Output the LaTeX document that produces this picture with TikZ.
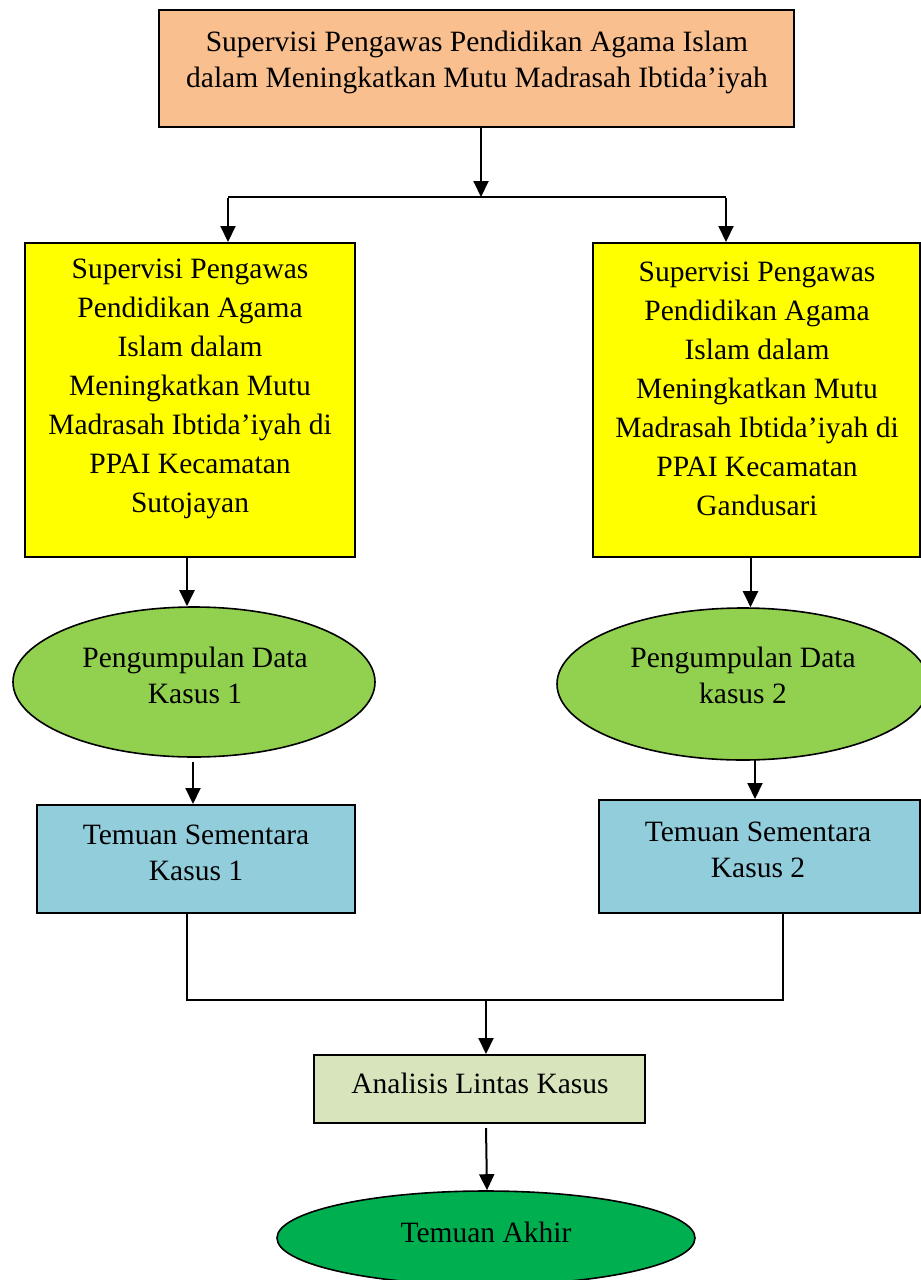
\documentclass[tikz,border=0pt]{standalone}
\usepackage{fontspec}
\setmainfont{Liberation Serif}
\usetikzlibrary{arrows.meta,shapes.geometric}
\definecolor{cOrange}{HTML}{F9BF8F}
\definecolor{cYellow}{HTML}{FFFF00}
\definecolor{cLeaf}{HTML}{92D050}
\definecolor{cBlue}{HTML}{92CDDC}
\definecolor{cOlive}{HTML}{D8E4BC}
\definecolor{cGreen}{HTML}{00B050}
\tikzset{
  box/.style={draw=black, line width=2pt, rectangle, inner sep=0pt},
  oval/.style={draw=black, line width=1.6pt, ellipse, inner sep=0pt},
  txt/.style={align=center, inner sep=0pt, font=\fontsize{29.5}{36}\selectfont},
  ytxt/.style={align=center, inner sep=0pt, font=\fontsize{29.5}{39}\selectfont},
  arr/.style={line width=2pt, -{Triangle[length=16pt,width=15pt]}},
  ln/.style={line width=2pt},
}
\begin{document}
\begin{tikzpicture}[x=1pt,y=-1pt]
\useasboundingbox (0,0) rectangle (921,1280);
% top
\node[box, fill=cOrange, minimum width=635pt, minimum height=117pt] (top) at (476.5,68.5) {};
\node[txt] (topT) at (477,62) {Supervisi Pengawas Pendidikan Agama Islam\\dalam Meningkatkan Mutu Madrasah Ibtida’iyah};
% yellow
\node[box, fill=cYellow, minimum width=330pt, minimum height=314pt] (ly) at (190,400) {};
\node[ytxt] (lyT) at (190,389) {Supervisi Pengawas\\Pendidikan Agama\\Islam dalam\\Meningkatkan Mutu\\Madrasah Ibtida’iyah di\\PPAI Kecamatan\\Sutojayan};
\node[box, fill=cYellow, minimum width=327pt, minimum height=314pt] (ry) at (756.5,400) {};
\node[ytxt] (ryT) at (757,389) {Supervisi Pengawas\\Pendidikan Agama\\Islam dalam\\Meningkatkan Mutu\\Madrasah Ibtida’iyah di\\PPAI Kecamatan\\Gandusari};
% ellipses
\node[oval, fill=cLeaf, minimum width=362pt, minimum height=150pt] (le) at (194,682) {};
\node[txt] (leT) at (195,675) {Pengumpulan Data\\Kasus 1};
\node[oval, fill=cLeaf, minimum width=372pt, minimum height=152pt] (re) at (743,684) {};
\node[txt] (reT) at (743,675) {Pengumpulan Data\\kasus 2};
% blue
\node[box, fill=cBlue, minimum width=318pt, minimum height=108pt] (lb) at (196,859) {};
\node[txt] (lbT) at (196,852.5) {Temuan Sementara\\Kasus 1};
\node[box, fill=cBlue, minimum width=321pt, minimum height=113pt] (rb) at (759.5,856.5) {};
\node[txt] (rbT) at (758,849.5) {Temuan Sementara\\Kasus 2};
% analysis
\node[box, fill=cOlive, minimum width=331pt, minimum height=68pt] (an) at (479.5,1089) {};
\node[txt] (anT) at (480,1083) {Analisis Lintas Kasus};
% final
\node[oval, fill=cGreen, minimum width=418pt, minimum height=94pt] (fin) at (486,1238) {};
\node[txt] (finT) at (486,1232) {Temuan Akhir};
% connectors
\coordinate (split) at (481,197);
\coordinate (jL) at (228,197);
\coordinate (jR) at (726,197);
\draw[arr] (top.south -| split) -- (split);
\draw[ln] (jL) -- (jR);
\draw[arr] ([yshift=-1pt]jL) -- (jL |- ly.north);
\draw[arr] ([yshift=-1pt]jR) -- (jR |- ry.north);
\draw[arr] ([xshift=-3pt]ly.south) -- ([xshift=-3pt]ly.south |- le.north);
\draw[arr] ([xshift=-6pt]ry.south) -- ([xshift=-6pt]ry.south |- re.north);
\coordinate (lbo) at (193,762);
\coordinate (rbo) at (755,760);
\draw[arr] (lbo) -- (lbo |- lb.north);
\draw[arr] (rbo) -- (rbo |- rb.north);
\coordinate (mL) at (187,1000);
\coordinate (mR) at (783,1000);
\coordinate (mC) at (486,1000);
\draw[ln] (lb.south -| mL) -- (mL) -- (mR) -- (rb.south -| mR);
\draw[arr] (mC) -- (mC |- an.north);
\coordinate (aS) at (486,1128);
\draw[arr] (aS) -- ([xshift=1pt]fin.north);
\end{tikzpicture}
\end{document}
